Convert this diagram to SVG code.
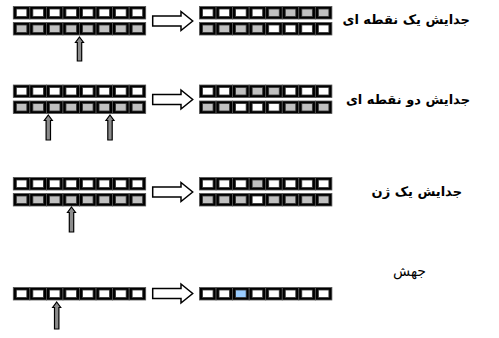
<svg xmlns="http://www.w3.org/2000/svg" xmlns:xlink="http://www.w3.org/1999/xlink" width="499" height="338" viewBox="0 0 499 338">
<style>
.ob{fill:#000;stroke:#555;stroke-width:0.8}
.w{fill:#fff;stroke:#333;stroke-width:0.8}
.g{fill:#c0c0c0;stroke:#333;stroke-width:0.8}
.b{fill:#99ccff;stroke:#333;stroke-width:0.8}
.big{fill:#fff;stroke:#000;stroke-width:1.5}
.sm{fill:#8c8c8c;stroke:#000;stroke-width:1.2}
.lbl{font-family:"DejaVu Sans",sans-serif;font-size:13px;font-weight:bold;fill:#000}
</style>
<defs>
<g id="W"><rect class="ob" width="16.55" height="12.5"/><rect class="w" x="3" y="2.5" width="10.55" height="7.5"/></g>
<g id="G"><rect class="ob" width="16.55" height="12.5"/><rect class="g" x="3" y="2.5" width="10.55" height="7.5"/></g>
<g id="B"><rect class="ob" width="16.55" height="12.5"/><rect class="b" x="3" y="2.5" width="10.55" height="7.5"/></g>
<g id="S8W"><use xlink:href="#W" x="0"/><use xlink:href="#W" x="16.55"/><use xlink:href="#W" x="33.1"/><use xlink:href="#W" x="49.65"/><use xlink:href="#W" x="66.2"/><use xlink:href="#W" x="82.75"/><use xlink:href="#W" x="99.3"/><use xlink:href="#W" x="115.85"/></g>
<g id="S8G"><use xlink:href="#G" x="0"/><use xlink:href="#G" x="16.55"/><use xlink:href="#G" x="33.1"/><use xlink:href="#G" x="49.65"/><use xlink:href="#G" x="66.2"/><use xlink:href="#G" x="82.75"/><use xlink:href="#G" x="99.3"/><use xlink:href="#G" x="115.85"/></g>
</defs>
<rect width="499" height="338" fill="#fff"/>

<g id="row1">
<use xlink:href="#S8W" x="13.3" y="6.5"/>
<use xlink:href="#S8G" x="13.3" y="22.5"/>
<g transform="translate(199.5,6.5)"><use xlink:href="#W" x="0"/><use xlink:href="#W" x="16.55"/><use xlink:href="#W" x="33.1"/><use xlink:href="#W" x="49.65"/><use xlink:href="#G" x="66.2"/><use xlink:href="#G" x="82.75"/><use xlink:href="#G" x="99.3"/><use xlink:href="#G" x="115.85"/></g>
<g transform="translate(199.5,22.5)"><use xlink:href="#G" x="0"/><use xlink:href="#G" x="16.55"/><use xlink:href="#G" x="33.1"/><use xlink:href="#G" x="49.65"/><use xlink:href="#W" x="66.2"/><use xlink:href="#W" x="82.75"/><use xlink:href="#W" x="99.3"/><use xlink:href="#W" x="115.85"/></g>
<text class="lbl" x="470" y="24" text-anchor="end">جدایش یک نقطه ای</text>
</g>

<g id="row2">
<use xlink:href="#S8W" x="13.3" y="85"/>
<use xlink:href="#S8G" x="13.3" y="101"/>
<g transform="translate(199.5,85)"><use xlink:href="#W" x="0"/><use xlink:href="#W" x="16.55"/><use xlink:href="#G" x="33.1"/><use xlink:href="#G" x="49.65"/><use xlink:href="#G" x="66.2"/><use xlink:href="#W" x="82.75"/><use xlink:href="#W" x="99.3"/><use xlink:href="#W" x="115.85"/></g>
<g transform="translate(199.5,101)"><use xlink:href="#G" x="0"/><use xlink:href="#G" x="16.55"/><use xlink:href="#W" x="33.1"/><use xlink:href="#W" x="49.65"/><use xlink:href="#W" x="66.2"/><use xlink:href="#G" x="82.75"/><use xlink:href="#G" x="99.3"/><use xlink:href="#G" x="115.85"/></g>
<text class="lbl" x="470" y="104" text-anchor="end">جدایش دو نقطه ای</text>
</g>

<g id="row3">
<use xlink:href="#S8W" x="13.3" y="177.5"/>
<use xlink:href="#S8G" x="13.3" y="193.5"/>
<g transform="translate(199.5,177.5)"><use xlink:href="#W" x="0"/><use xlink:href="#W" x="16.55"/><use xlink:href="#W" x="33.1"/><use xlink:href="#G" x="49.65"/><use xlink:href="#W" x="66.2"/><use xlink:href="#W" x="82.75"/><use xlink:href="#W" x="99.3"/><use xlink:href="#W" x="115.85"/></g>
<g transform="translate(199.5,193.5)"><use xlink:href="#G" x="0"/><use xlink:href="#G" x="16.55"/><use xlink:href="#G" x="33.1"/><use xlink:href="#W" x="49.65"/><use xlink:href="#G" x="66.2"/><use xlink:href="#G" x="82.75"/><use xlink:href="#G" x="99.3"/><use xlink:href="#G" x="115.85"/></g>
<text class="lbl" x="462" y="196" text-anchor="end">جدایش یک ژن</text>
</g>

<g id="row4">
<use xlink:href="#S8W" x="13.3" y="287.5"/>
<g transform="translate(199.5,287.5)"><use xlink:href="#W" x="0"/><use xlink:href="#W" x="16.55"/><use xlink:href="#B" x="33.1"/><use xlink:href="#W" x="49.65"/><use xlink:href="#W" x="66.2"/><use xlink:href="#W" x="82.75"/><use xlink:href="#W" x="99.3"/><use xlink:href="#W" x="115.85"/></g>
<text class="lbl" x="426" y="276" text-anchor="end" style="font-weight:normal;font-size:14px">جهش</text>
</g>

<g id="connectors">
<path class="big" d="M152.7,16 H181 V11.5 L192.7,21 L181,30.5 V26 H152.7 Z"/>
<path class="big" d="M152.7,94.5 H181 V90 L192.7,99.5 L181,109 V104.5 H152.7 Z"/>
<path class="big" d="M152.7,187 H181 V182.5 L192.7,192 L181,201.5 V197 H152.7 Z"/>
<path class="big" d="M152.7,288.5 H181 V284 L192.7,293.5 L181,303 V298.5 H152.7 Z"/>
<path class="sm" d="M79.5,37 L83.5,42.5 H81.7 V61 H77.3 V42.5 H75.5 Z"/>
<path class="sm" d="M48.3,115 L52.3,120.5 H50.5 V140 H46.1 V120.5 H44.3 Z"/>
<path class="sm" d="M110,115 L114,120.5 H112.2 V140 H107.8 V120.5 H106 Z"/>
<path class="sm" d="M71.5,207 L75.5,212.5 H73.7 V232 H69.3 V212.5 H67.5 Z"/>
<path class="sm" d="M56.7,302 L60.7,307.5 H58.9 V329 H54.5 V307.5 H52.7 Z"/>
</g>
</svg>
